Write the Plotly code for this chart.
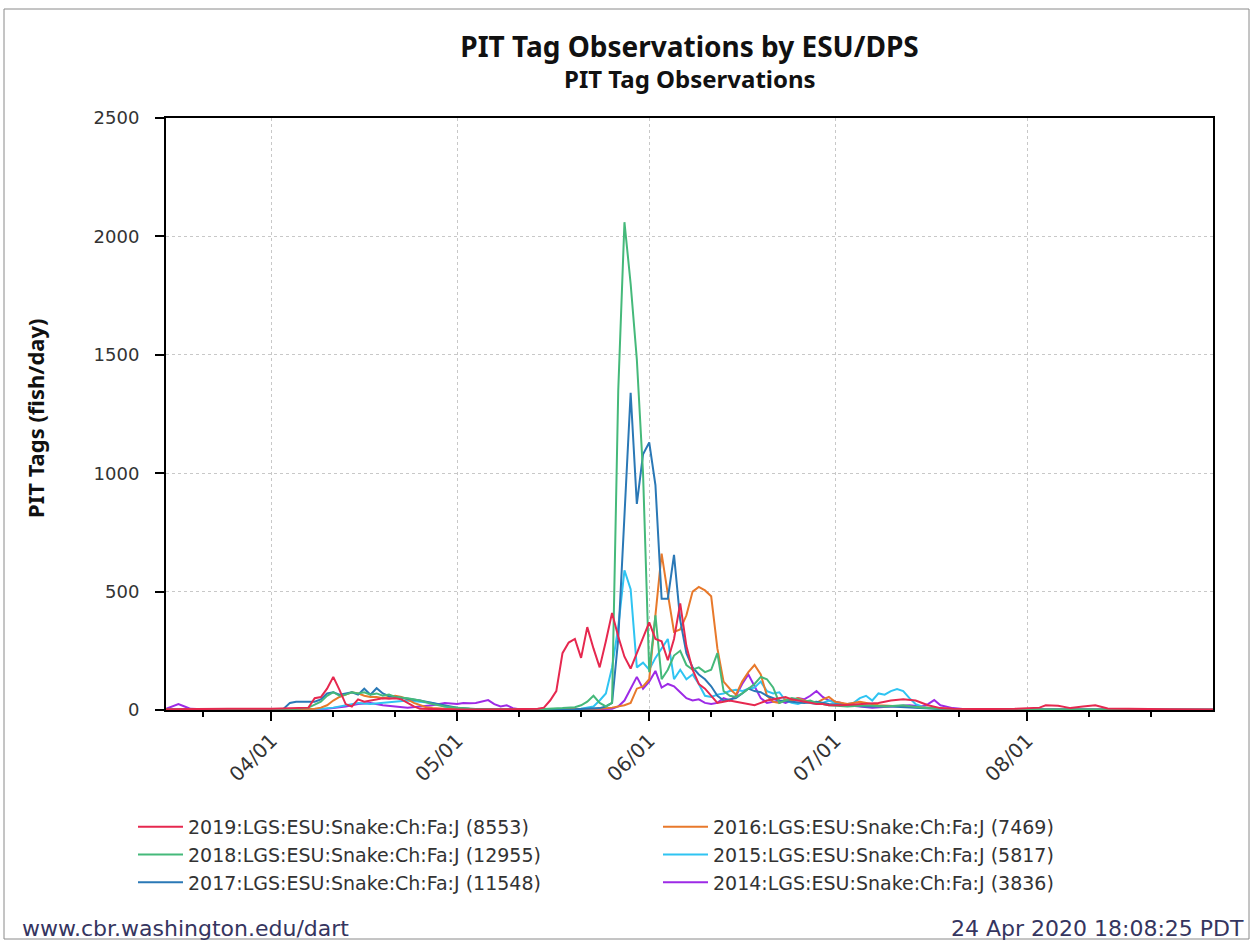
import plotly.graph_objects as go

# ---- data (month-day, fish/day) ----
d2019 = ["03-15", "03-20", "03-25", "04-01", "04-05", "04-07", "04-08", "04-09", "04-10", "04-11",
         "04-12", "04-13", "04-14", "04-15", "04-16", "04-17", "04-18", "04-19", "04-20", "04-21",
         "04-22", "04-23", "04-24", "04-25", "04-27", "05-01", "05-05", "05-10", "05-14", "05-15",
         "05-16", "05-17", "05-18", "05-19", "05-20", "05-21", "05-22", "05-23", "05-24", "05-25",
         "05-26", "05-27", "05-28", "05-29", "05-30", "05-31", "06-01", "06-02", "06-03", "06-04",
         "06-05", "06-06", "06-07", "06-08", "06-09", "06-10", "06-11", "06-12", "06-13", "06-14",
         "06-15", "06-16", "06-17", "06-18", "06-19", "06-20", "06-21", "06-22", "06-23", "06-24",
         "06-25", "06-26", "06-27", "06-28", "06-29", "06-30", "07-02", "07-05", "07-08", "07-10",
         "07-12", "07-14", "07-16", "07-18", "07-20", "07-25", "07-30", "08-03", "08-04", "08-06",
         "08-08", "08-10", "08-12", "08-14", "08-18", "08-24", "08-31"]
v2019 = [3, 5, 5, 5, 8, 10, 50, 55, 90, 140,
         85, 25, 15, 45, 35, 40, 45, 50, 48, 50,
         45, 30, 15, 5, 3, 2, 2, 3, 5, 10,
         40, 80, 240, 285, 300, 220, 350, 260, 180, 290,
         410, 310, 225, 175, 240, 310, 370, 300, 290, 210,
         300, 450, 270, 170, 110, 90, 60, 30, 35, 40,
         35, 30, 25, 20, 30, 40, 45, 50, 55, 45,
         40, 35, 30, 25, 25, 20, 20, 25, 30, 40,
         45, 40, 20, 8, 5, 4, 5, 10, 20, 18,
         8, 15, 20, 6, 4, 3, 2]

d2018 = ["03-15", "03-25", "04-01", "04-05", "04-07", "04-09", "04-10", "04-11", "04-12", "04-13",
         "04-14", "04-15", "04-16", "04-17", "04-18", "04-19", "04-20", "04-21", "04-23", "04-25",
         "04-27", "04-29", "05-01", "05-04", "05-10", "05-15", "05-18", "05-20", "05-21", "05-22",
         "05-23", "05-24", "05-25", "05-26", "05-27", "05-28", "05-29", "05-30", "05-31", "06-01",
         "06-02", "06-03", "06-04", "06-05", "06-06", "06-07", "06-08", "06-09", "06-10", "06-11",
         "06-12", "06-13", "06-14", "06-15", "06-16", "06-17", "06-18", "06-19", "06-20", "06-21",
         "06-22", "06-23", "06-24", "06-25", "06-26", "06-27", "06-28", "06-29", "06-30", "07-03",
         "07-06", "07-09", "07-12", "07-15", "07-18", "07-22", "08-01", "08-15", "08-31"]
v2018 = [2, 2, 3, 5, 10, 35, 60, 75, 60, 65,
         75, 70, 75, 65, 70, 60, 65, 55, 50, 40,
         25, 15, 10, 4, 3, 4, 8, 12, 20, 35,
         60, 30, 15, 30, 1350, 2060, 1800, 1480, 1000, 160,
         400, 130, 170, 230, 250, 190, 170, 180, 160, 170,
         240, 80, 60, 55, 70, 90, 110, 140, 130, 95,
         30, 40, 50, 45, 35, 40, 30, 25, 20, 15,
         20, 15, 20, 10, 5, 3, 2, 2, 1]

d2017 = ["03-15", "03-25", "04-01", "04-03", "04-04", "04-05", "04-08", "04-09", "04-10", "04-11",
         "04-12", "04-13", "04-14", "04-15", "04-16", "04-17", "04-18", "04-19", "04-20", "04-21",
         "04-22", "04-23", "04-24", "04-25", "04-26", "04-27", "04-28", "04-29", "04-30", "05-01",
         "05-03", "05-10", "05-20", "05-23", "05-24", "05-25", "05-26", "05-27", "05-28", "05-29",
         "05-30", "05-31", "06-01", "06-02", "06-03", "06-04", "06-05", "06-06", "06-07", "06-08",
         "06-09", "06-10", "06-11", "06-12", "06-13", "06-14", "06-15", "06-16", "06-17", "06-18",
         "06-19", "06-20", "06-22", "06-24", "06-26", "06-28", "06-30", "07-03", "07-06", "07-10",
         "07-14", "07-18", "07-25", "08-10", "08-31"]
v2017 = [1, 2, 2, 5, 30, 35, 35, 45, 70, 75,
         65, 70, 75, 65, 90, 65, 92, 70, 58, 55,
         52, 48, 45, 40, 35, 30, 25, 20, 15, 10,
         5, 2, 3, 5, 8, 15, 30, 300, 800, 1340,
         870, 1080, 1130, 950, 470, 470, 655, 380, 240, 180,
         150, 130, 100, 60, 40, 45, 50, 70, 90, 80,
         75, 60, 40, 35, 30, 35, 25, 20, 15, 15,
         10, 4, 2, 2, 1]

d2016 = ["03-15", "04-01", "04-08", "04-09", "04-10", "04-11", "04-12", "04-13", "04-14", "04-15",
         "04-16", "04-17", "04-18", "04-19", "04-20", "04-21", "04-22", "04-23", "04-24", "04-25",
         "04-26", "04-27", "04-29", "05-05", "05-20", "05-24", "05-26", "05-27", "05-28", "05-29",
         "05-30", "05-31", "06-01", "06-02", "06-03", "06-04", "06-05", "06-06", "06-07", "06-08",
         "06-09", "06-10", "06-11", "06-12", "06-13", "06-14", "06-15", "06-16", "06-17", "06-18",
         "06-19", "06-20", "06-21", "06-22", "06-23", "06-24", "06-25", "06-26", "06-27", "06-28",
         "06-29", "06-30", "07-01", "07-03", "07-05", "07-08", "07-12", "07-16", "07-20", "08-01",
         "08-31"]
v2016 = [1, 2, 5, 10, 20, 40, 55, 65, 75, 70,
         60, 55, 55, 50, 55, 60, 55, 45, 30, 20,
         12, 8, 5, 2, 2, 5, 10, 15, 20, 30,
         90, 100, 130, 400, 660, 490, 330, 340, 400, 500,
         520, 505, 480, 260, 120, 90, 65, 120, 160, 190,
         150, 60, 35, 30, 45, 40, 50, 40, 35, 30,
         45, 55, 35, 25, 35, 20, 15, 8, 4, 2,
         1]

d2015 = ["03-15", "04-01", "04-09", "04-11", "04-13", "04-15", "04-17", "04-19", "04-21", "04-23",
         "04-25", "04-27", "04-29", "05-01", "05-05", "05-15", "05-21", "05-23", "05-24", "05-25",
         "05-26", "05-27", "05-28", "05-29", "05-30", "05-31", "06-01", "06-02", "06-03", "06-04",
         "06-05", "06-06", "06-07", "06-08", "06-09", "06-10", "06-11", "06-12", "06-13", "06-14",
         "06-15", "06-16", "06-17", "06-18", "06-19", "06-20", "06-21", "06-22", "06-23", "06-24",
         "06-25", "06-26", "06-27", "06-28", "06-29", "06-30", "07-01", "07-02", "07-03", "07-04",
         "07-05", "07-06", "07-07", "07-08", "07-09", "07-10", "07-11", "07-12", "07-13", "07-14",
         "07-15", "07-16", "07-18", "07-25", "08-31"]
v2015 = [2, 2, 5, 10, 20, 30, 25, 30, 35, 40,
         35, 30, 15, 5, 2, 2, 5, 15, 40, 70,
         180, 350, 590, 510, 180, 200, 170, 220, 260, 300,
         130, 170, 130, 150, 110, 60, 55, 65, 70, 80,
         85, 80, 90, 95, 120, 80, 70, 75, 40, 30,
         25, 35, 30, 25, 30, 40, 30, 20, 25, 30,
         50, 60, 40, 70, 65, 80, 88, 80, 50, 25,
         15, 10, 5, 2, 1]

d2014 = ["03-15", "03-16", "03-17", "03-18", "03-19", "03-22", "04-01", "04-10", "04-13", "04-15",
         "04-17", "04-19", "04-21", "04-23", "04-25", "04-27", "04-29", "05-01", "05-02", "05-03",
         "05-04", "05-05", "05-06", "05-07", "05-08", "05-09", "05-10", "05-11", "05-20", "05-26",
         "05-27", "05-28", "05-29", "05-30", "05-31", "06-01", "06-02", "06-03", "06-04", "06-05",
         "06-06", "06-07", "06-08", "06-09", "06-10", "06-11", "06-12", "06-13", "06-14", "06-15",
         "06-16", "06-17", "06-18", "06-19", "06-20", "06-21", "06-22", "06-23", "06-24", "06-25",
         "06-26", "06-27", "06-28", "06-29", "06-30", "07-01", "07-02", "07-03", "07-05", "07-07",
         "07-10", "07-13", "07-15", "07-16", "07-17", "07-18", "07-20", "07-22", "08-10", "08-31"]
v2014 = [5, 15, 25, 15, 5, 2, 2, 5, 15, 25,
         30, 20, 15, 10, 15, 20, 30, 25, 30, 28,
         30, 35, 42, 25, 15, 20, 8, 3, 2, 5,
         15, 40, 90, 140, 90, 120, 165, 95, 110, 100,
         75, 50, 40, 45, 30, 25, 30, 50, 40, 60,
         110, 150, 100, 50, 30, 35, 40, 30, 40, 50,
         45, 60, 80, 55, 40, 35, 30, 20, 15, 10,
         15, 20, 15, 25, 42, 20, 8, 3, 2, 1]

series = [
    ("2014:LGS:ESU:Snake:Ch:Fa:J (3836)", d2014, v2014, "#9d2ae6", "legend2"),
    ("2015:LGS:ESU:Snake:Ch:Fa:J (5817)", d2015, v2015, "#2fc4f2", "legend2"),
    ("2016:LGS:ESU:Snake:Ch:Fa:J (7469)", d2016, v2016, "#e8792b", "legend2"),
    ("2017:LGS:ESU:Snake:Ch:Fa:J (11548)", d2017, v2017, "#2a78b6", "legend"),
    ("2018:LGS:ESU:Snake:Ch:Fa:J (12955)", d2018, v2018, "#45b97a", "legend"),
    ("2019:LGS:ESU:Snake:Ch:Fa:J (8553)", d2019, v2019, "#e6284f", "legend"),
]

month_ticks = ["2019-04-01", "2019-05-01", "2019-06-01", "2019-07-01", "2019-08-01"]
minor_ticks = ["2019-03-21", "2019-04-11", "2019-04-21", "2019-05-11", "2019-05-21",
               "2019-06-11", "2019-06-21", "2019-07-11", "2019-07-21", "2019-08-11", "2019-08-21"]
y_ticks = [0, 500, 1000, 1500, 2000, 2500]

# plot area in pixels (from the reference)
L, R, T, B = 166, 1213, 118, 710
W, H = 1250, 940
def px(x):
    return (x - L) / (R - L)
def py(y):
    return (B - y) / (B - T)

fig = go.Figure()
for name, days, vals, color, leg in series:
    fig.add_trace(go.Scatter(
        x=["2019-" + d for d in days], y=vals, mode="lines", name=name,
        line=dict(color=color, width=2), legend=leg,
    ))

legend_font = dict(family="DejaVu Sans", size=19, color="#333333")
fig.update_layout(
    width=W, height=H,
    margin=dict(l=L, r=W - R, t=T, b=H - B, autoexpand=False),
    paper_bgcolor="white", plot_bgcolor="white",
    font=dict(family="DejaVu Sans", color="#333333"),
    title=dict(text="<b>PIT Tag Observations by ESU/DPS</b>",
               font=dict(family="Noto Sans", size=28, color="#111111"),
               x=0.5, xref="paper", xanchor="center",
               y=1 - 47 / H, yref="container", yanchor="middle"),
    xaxis=dict(
        type="date", range=["2019-03-15", "2019-08-31"],
        tickmode="array", tickvals=month_ticks, tickformat="%m/%d", tickangle=-45,
        ticks="outside", ticklen=9, tickwidth=2, tickcolor="black",
        tickfont=dict(family="DejaVu Sans", size=20, color="#333333"),
        showline=True, linecolor="black", linewidth=2, mirror=True,
        showgrid=True, gridcolor="#c8c8c8", griddash="dot", gridwidth=1,
        minor=dict(tickmode="array", tickvals=minor_ticks, ticks="outside",
                   ticklen=5, tickwidth=2, tickcolor="black", showgrid=False),
        zeroline=False,
    ),
    yaxis=dict(
        range=[0, 2500], tickmode="array", tickvals=y_ticks,
        ticks="outside", ticklen=9, tickwidth=2, tickcolor="black",
        tickfont=dict(family="DejaVu Sans", size=18, color="#333333"),
        ticklabelstandoff=12,
        showline=True, linecolor="black", linewidth=2, mirror=True,
        showgrid=True, gridcolor="#c8c8c8", griddash="dot", gridwidth=1,
        zeroline=False,
    ),
    legend=dict(x=133 / W, y=1 - 808 / H, xref="container", yref="container",
                xanchor="left", yanchor="top", traceorder="reversed", itemwidth=45,
                font=legend_font, bgcolor="rgba(0,0,0,0)", tracegroupgap=0),
    legend2=dict(x=658 / W, y=1 - 808 / H, xref="container", yref="container",
                 xanchor="left", yanchor="top", traceorder="reversed", itemwidth=45,
                 font=legend_font, bgcolor="rgba(0,0,0,0)", tracegroupgap=0),
    showlegend=True,
)

fig.add_annotation(text="<b>PIT Tag Observations</b>", xref="paper", yref="paper",
                   x=0.5, y=py(78), xanchor="center", yanchor="middle", showarrow=False,
                   font=dict(family="Noto Sans", size=24, color="#111111"))
fig.add_annotation(text="<b>PIT Tags (fish/day)</b>", xref="paper", yref="paper",
                   x=px(35), y=py(418), xanchor="center", yanchor="middle", showarrow=False,
                   textangle=-90, font=dict(family="Noto Sans", size=22, color="#111111"))
fig.add_annotation(text="www.cbr.washington.edu/dart", xref="paper", yref="paper",
                   x=px(20), y=py(928), xanchor="left", yanchor="middle", showarrow=False,
                   font=dict(family="DejaVu Sans", size=22, color="#35355f"))
fig.add_annotation(text="24 Apr 2020 18:08:25 PDT", xref="paper", yref="paper",
                   x=px(1246), y=py(928), xanchor="right", yanchor="middle", showarrow=False,
                   font=dict(family="DejaVu Sans", size=22, color="#35355f"))

# thin frame around the whole picture
fig.add_shape(type="rect", xref="paper", yref="paper",
              x0=px(4), x1=px(1249), y0=py(939), y1=py(9),
              line=dict(color="#8a8a8a", width=1), fillcolor="rgba(0,0,0,0)", layer="below")

# drop the page's default body margin so the figure sits at the window's corner
fig.write_html("out.html", config={"displayModeBar": False},
               post_script="document.body.style.margin='0px';")
